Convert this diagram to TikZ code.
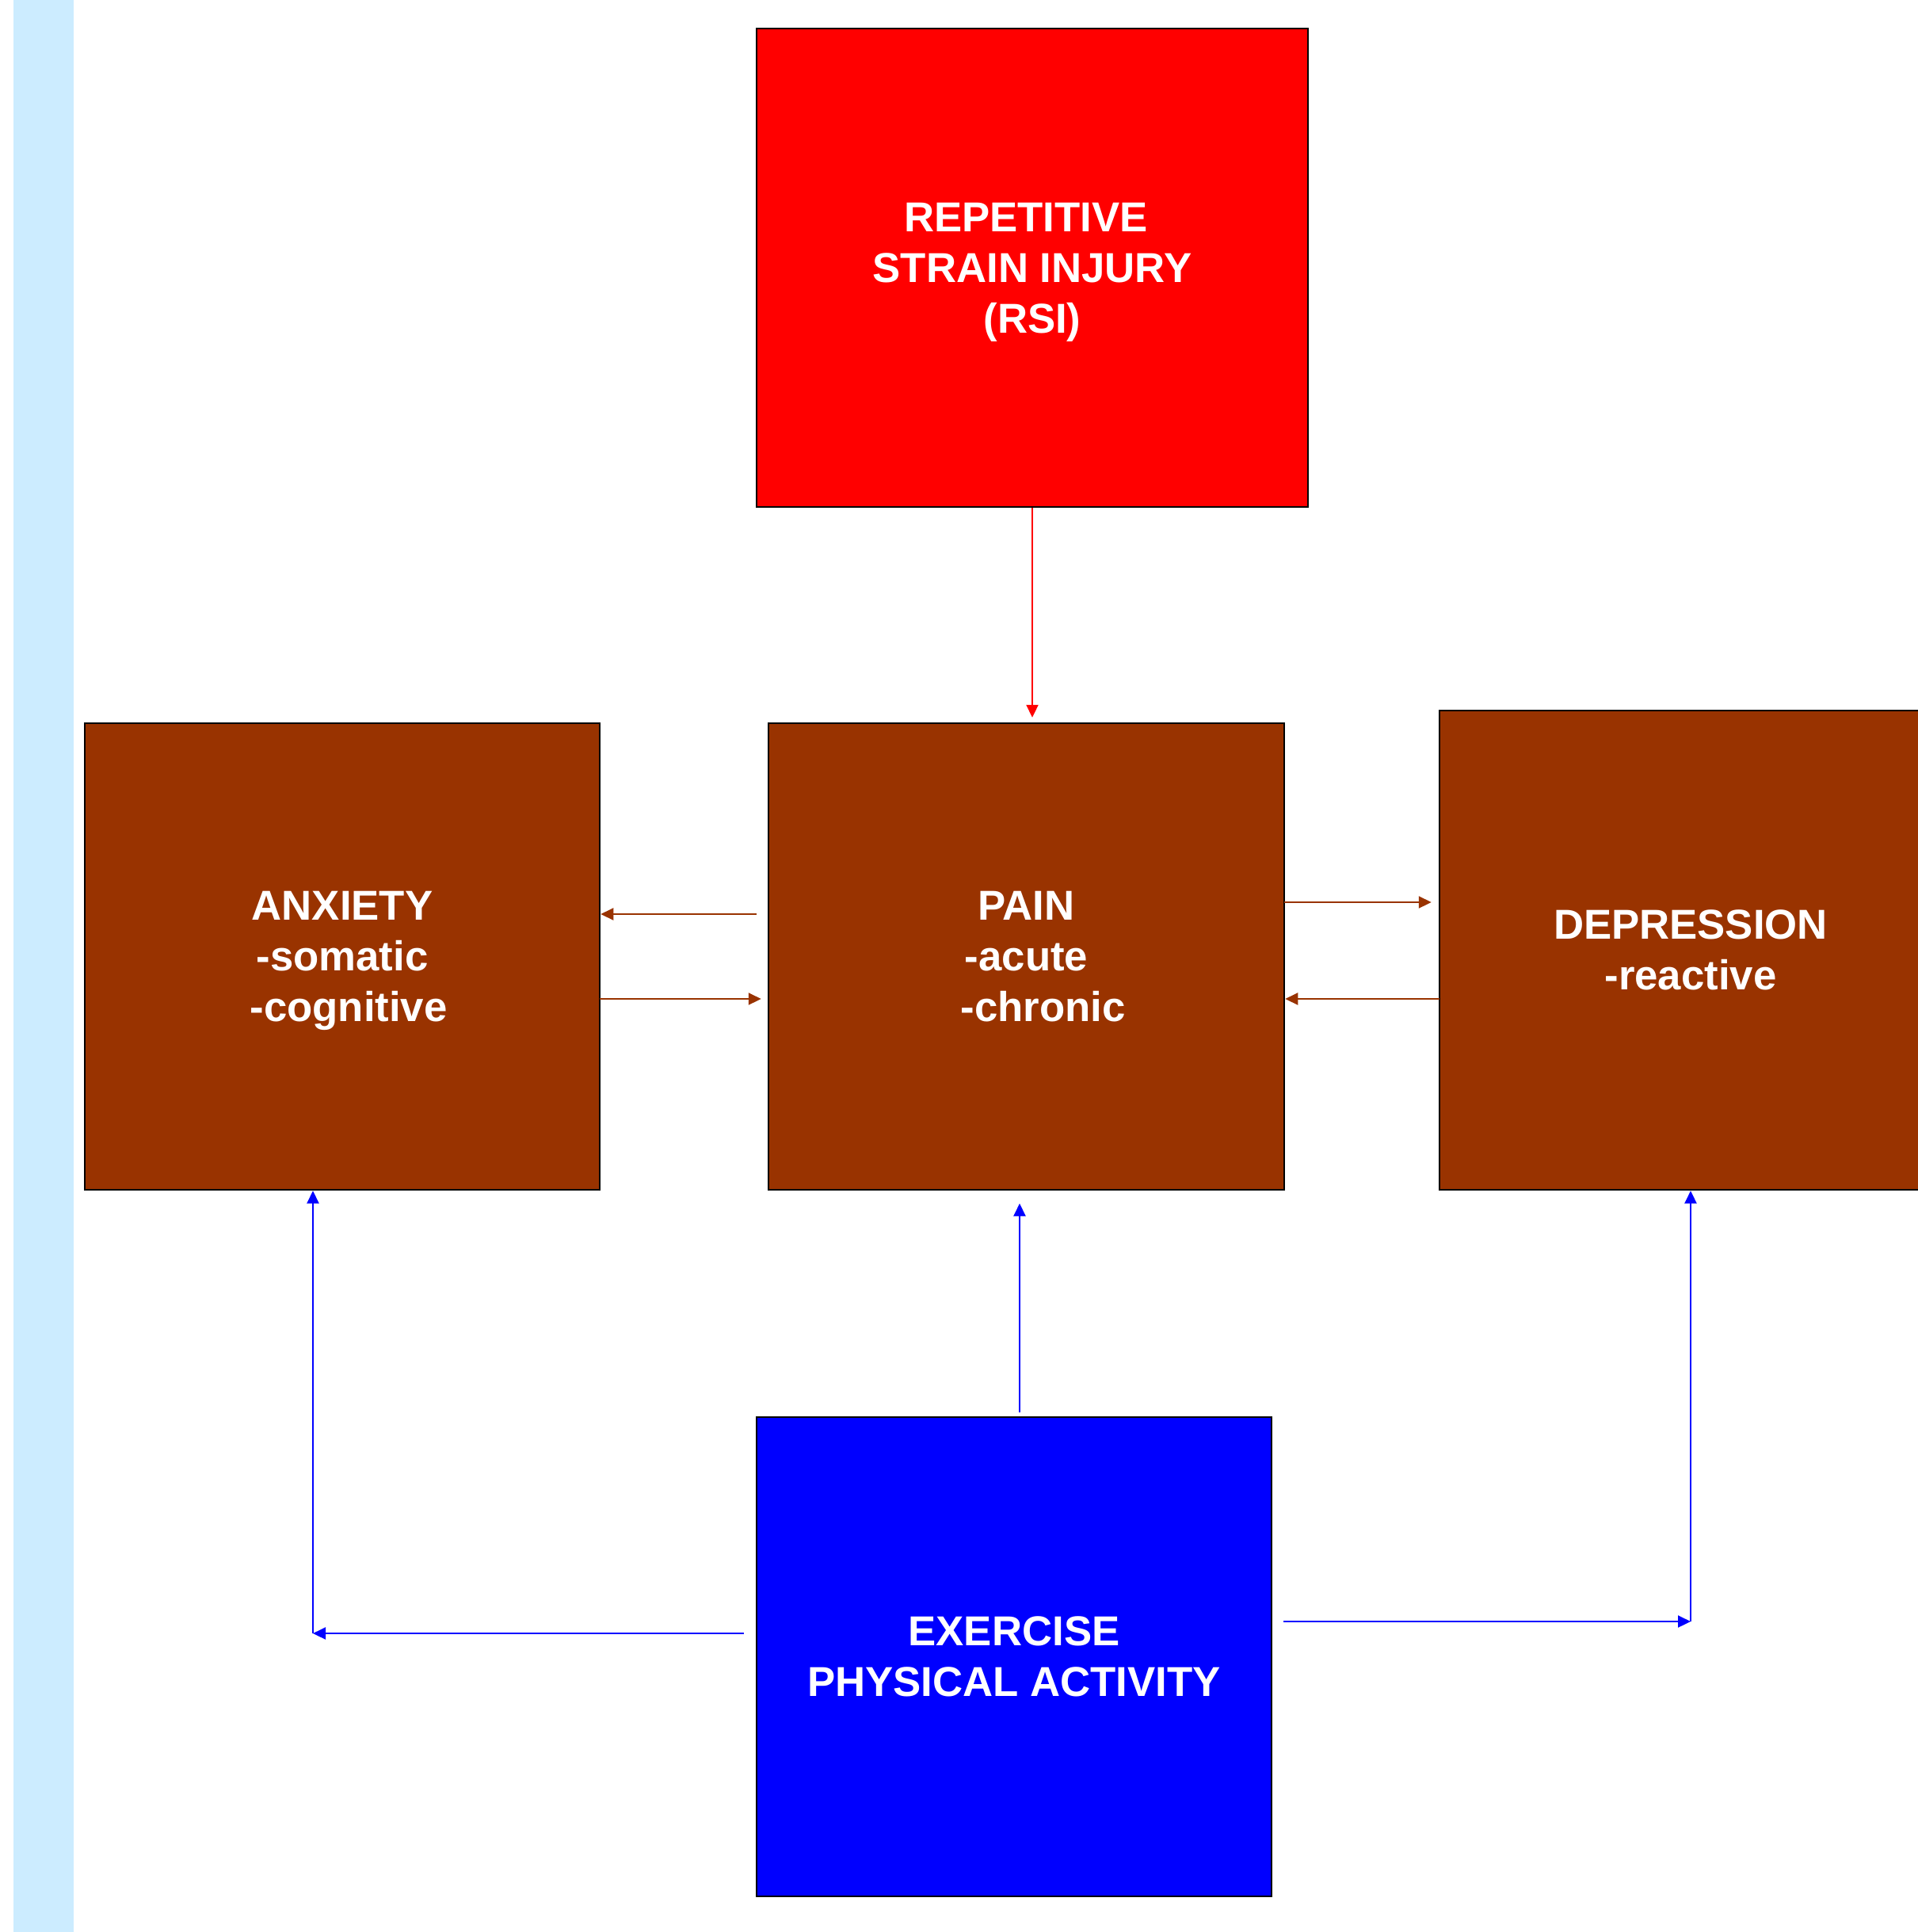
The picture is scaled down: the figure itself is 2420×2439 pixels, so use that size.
\documentclass[tikz,border=0pt]{standalone}
\usepackage{fontspec}
\setmainfont{Liberation Sans}
\usetikzlibrary{arrows.meta}
\definecolor{rsired}{HTML}{FF0000}
\definecolor{brn}{HTML}{993300}
\definecolor{exblue}{HTML}{0000FF}
\definecolor{band}{HTML}{CCECFF}
\begin{document}
\begin{tikzpicture}[x=0.01cm,y=-0.01cm,
  box/.style={draw=black,line width=0.6pt,inner sep=0pt,text=white,
    font=\bfseries\fontsize{15}{18.2}\selectfont,align=center},
  conn/.style={line width=0.6pt,-{Triangle[length=0.16cm,width=0.15cm]}}]
\useasboundingbox (0,0) rectangle (2420,2439);
\fill[band] (17,0) rectangle (93,2439);
\node[box,fill=rsired,minimum width=6.96cm,minimum height=6.04cm] (rsi) at (1303,338) {REPETITIVE\hspace*{0.16cm}\\STRAIN INJURY\hspace*{0.16cm}\\\smash{(RSI)}};
\node[box,fill=brn,minimum width=6.51cm,minimum height=5.89cm] (pain) at (1295.5,1207.5) {PAIN\\-acute\\\hspace*{0.42cm}-chronic};
\node[box,fill=brn,minimum width=6.50cm,minimum height=5.89cm] (anx) at (432,1207.5) {ANXIETY\\-somatic\\\hspace*{0.16cm}-co\smash{g}nitive};
\node[box,fill=brn,minimum width=6.34cm,minimum height=6.05cm] (dep) at (2134,1199.5) {DEPRESSION\\-reactive};
\node[box,fill=exblue,minimum width=6.50cm,minimum height=6.05cm] (ex) at (1280,2091.5) {EXERCISE\\PHYSICAL ACTIVITY};
% connectors
\draw[conn,rsired,shorten >=0.06cm] (rsi.south) -- (rsi.south |- pain.north);
\coordinate (pa) at (955,1154);
\draw[conn,brn] (pa) -- (pa -| anx.east);
\coordinate (ap) at (757,1261);
\draw[conn,brn,shorten >=0.08cm] (ap) -- (ap -| pain.west);
\coordinate (pd) at (1621,1139);
\draw[conn,brn,shorten >=0.09cm] (pd) -- (pd -| dep.west);
\coordinate (dp) at (1817,1261);
\draw[conn,brn] (dp) -- (dp -| pain.east);
\coordinate (ep) at (1287,1783);
\draw[conn,exblue,shorten >=0.16cm] (ep) -- (ep |- pain.south);
\coordinate (el) at (939,2062);
\coordinate (cl) at (395,2062);
\draw[conn,exblue] (el) -- (cl);
\draw[conn,exblue] (cl) -- (cl |- anx.south);
\coordinate (er) at (1620,2047);
\coordinate (cr) at (2134,2047);
\draw[conn,exblue] (er) -- (cr);
\draw[conn,exblue] (cr) -- (cr |- dep.south);
\end{tikzpicture}
\end{document}
